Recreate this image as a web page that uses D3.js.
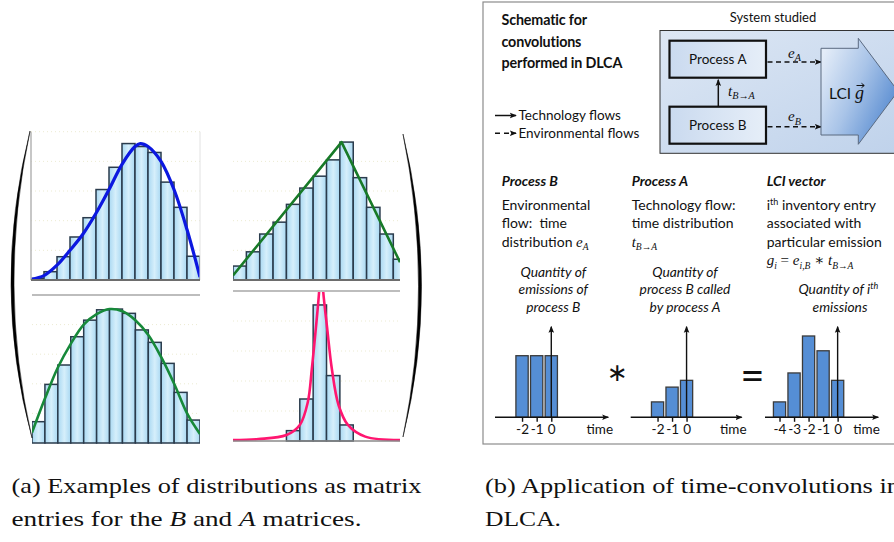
<!DOCTYPE html>
<html><head><meta charset="utf-8">
<script src="https://cdn.jsdelivr.net/npm/d3@7"></script>
<style>body{margin:0;background:#fff}svg{display:block}</style>
</head><body>
<svg id="c" width="894" height="542"></svg>
<script>
// ---------- DATA ----------
const bars1 = [1, 5.6, 15.7, 29, 42, 61, 76, 92, 90, 86, 66, 49, 16];
const curve1 = [[0,0.5],[1,3],[2,10],[3,20],[4,31],[5,45],[6,61],[7,78],[8,90],[8.4,92],[9,90],[10,80],[11,61],[12,34],[13,2]];
const bars2 = [9.4, 19, 31, 39, 51, 62, 70, 81, 93, 69, 49, 31, 14];
const curve2 = [[0,3],[8.125,93],[12.5,12]];
const bars3 = [14.4, 39.6, 52.7, 71.8, 83, 90, 90.5, 87.6, 76.4, 68, 53.8, 34.2, 15.5];
const curve3 = [[0,7],[1,30],[2,51],[3,67],[4,80],[5,87],[6,90.5],[7,89],[8,83],[9,73],[10,58],[11,40],[12,20],[13,6]];
const bars4 = [0, 0, 0, 0, 6.9, 28, 90.7, 43.6, 10.7, 0, 0, 0, 0];
const curve4 = [[0,0.7],[1.9,1.3],[4,4],[5,10.7],[5.6,26],[5.9,48],[6.2,75],[6.45,100],[6.6,125],[6.75,100],[7.05,75],[7.4,48],[7.9,24],[8.6,10.7],[9.9,2.9],[12.5,0.7]];

const timeB = [-2, -1, 0], qtyB = [1, 1, 1];
const timeA = [-2, -1, 0], qtyA = [0.25, 0.49, 0.6];
const timeG = [-4, -3, -2, -1, 0], qtyG = [0.25, 0.72, 1.32, 1.08, 0.6];

const captionA = ["(a) Examples of distributions as matrix", "entries for the ", "B", " and ", "A", " matrices."];
const captionB = ["(b) Application of time-convolutions in", "DLCA."];

// ---------- SETUP ----------
const svg = d3.select("#c");
svg.append("rect").attr("width",894).attr("height",542).attr("fill","#fff");
const defs = svg.append("defs");

function grad(id, x1,y1,x2,y2, stops){
  const g = defs.append("linearGradient").attr("id",id).attr("x1",x1).attr("y1",y1).attr("x2",x2).attr("y2",y2);
  stops.forEach(s=>g.append("stop").attr("offset",s[0]).attr("stop-color",s[1]));
}
grad("gSys","0","0","1","1",[[0,"#dde7f4"],[1,"#bfd2eb"]]);
grad("gProc","0","0","1","0",[[0,"#cadaef"],[1,"#e6eef8"]]);
grad("gLCI","0","0.2","1","0.8",[[0,"#e3ecf8"],[0.45,"#a9c4e8"],[1,"#4a82cd"]]);
grad("gBar","0","0","1","0",[[0,"#a9d8f2"],[0.5,"#d6effb"],[1,"#a9d8f2"]]);

function marker(id){
  defs.append("marker").attr("id",id).attr("viewBox","0 0 8 8").attr("refX",7).attr("refY",4)
    .attr("markerWidth",7).attr("markerHeight",7).attr("markerUnits","userSpaceOnUse").attr("orient","auto")
    .append("path").attr("d","M0,0.8 L8,4 L0,7.2 L1.6,4 Z").attr("fill","#111");
}
marker("arr");

// ---------- PANEL (a) ----------
const panels = [
  {bars:bars1, curve:curve1, x0:31,  x1:200, yb:280, yt:131.7, xmax:13,   color:"#0c18e0", cw:3.2, type:d3.curveCatmullRom},
  {bars:bars2, curve:curve2, x0:233, x1:400, yb:280, yt:131.7, xmax:12.5, color:"#187a28", cw:2.6, type:d3.curveLinear},
  {bars:bars3, curve:curve3, x0:32,  x1:200, yb:443, yt:295,   xmax:13,   color:"#17893a", cw:2.6, type:d3.curveCatmullRom},
  {bars:bars4, curve:curve4, x0:233, x1:400, yb:441, yt:291,   xmax:12.5, color:"#ff1670", cw:2.6, type:d3.curveCatmullRom}
];

const pa = svg.append("g");
panels.forEach((p,k)=>{
  const x = d3.scaleLinear().domain([0,p.xmax]).range([p.x0,p.x1]);
  const y = d3.scaleLinear().domain([0,100]).range([p.yb,p.yt]);
  const cid = "clip"+k;
  defs.append("clipPath").attr("id",cid).append("rect")
    .attr("x",p.x0).attr("y",p.yt-1).attr("width",p.x1-p.x0).attr("height",p.yb-p.yt+3);
  const g = pa.append("g");
  const gy = d3.range(20,100,20);
  g.selectAll("line.gr").data(gy).join("line").attr("class","gr")
    .attr("x1",p.x0).attr("x2",p.x1).attr("y1",d=>y(d)).attr("y2",d=>y(d))
    .attr("stroke","#ecebd2").attr("stroke-width",1).attr("stroke-dasharray","1,3");
  const gc = g.append("g").attr("clip-path",`url(#${cid})`);
  gc.selectAll("rect").data(p.bars.map((v,i)=>({i,v})).filter(d=>d.v>0)).join("rect")
    .attr("x",d=>x(d.i)).attr("y",d=>y(d.v))
    .attr("width",d=>x(d.i+1)-x(d.i)).attr("height",d=>y(0)-y(d.v))
    .attr("fill","url(#gBar)").attr("stroke","#2a3b4c").attr("stroke-width",1.5);
  gc.append("path").datum(p.curve)
    .attr("d",d3.line().x(d=>x(d[0])).y(d=>y(d[1])).curve(p.type))
    .attr("fill","none").attr("stroke",p.color).attr("stroke-width",p.cw).attr("stroke-linejoin","round");
  if(k===0){
    g.append("line").attr("x1",p.x0).attr("x2",p.x0).attr("y1",p.yt).attr("y2",p.yb).attr("stroke","#b4b4b4").attr("stroke-width",1.5);
    g.append("line").attr("x1",p.x1).attr("x2",p.x1).attr("y1",p.yt).attr("y2",p.yb).attr("stroke","#e2e2e2").attr("stroke-width",1);
    g.append("line").attr("x1",p.x0).attr("x2",p.x1).attr("y1",p.yt).attr("y2",p.yt).attr("stroke","#ecebd2").attr("stroke-dasharray","1,3");
  }
  if(k<2) g.append("line").attr("x1",p.x0).attr("x2",p.x1).attr("y1",p.yb).attr("y2",p.yb).attr("stroke","#6d6d6d").attr("stroke-width",2);
  if(k>=2) g.append("line").attr("x1",p.x0).attr("x2",p.x1).attr("y1",p.yt).attr("y2",p.yt).attr("stroke","#bdbdbd").attr("stroke-width",2);
  if(k===3) g.append("line").attr("x1",p.x0).attr("x2",p.x1).attr("y1",p.yb).attr("y2",p.yb).attr("stroke","#8a8a8a").attr("stroke-width",1.5);
});

// matrix parentheses (crescent shapes)
pa.append("path").attr("d","M30,131 Q-9,287 32,438 Q-3,287 30,131 Z").attr("fill","#000").attr("stroke","#000").attr("stroke-width",0.5);
pa.append("path").attr("d","M403,134 Q440,287 403,437 Q434,287 403,134 Z").attr("fill","#000").attr("stroke","#000").attr("stroke-width",0.5);

// ---------- CAPTIONS ----------
const serif = "'Liberation Serif', 'DejaVu Serif', serif";
const capG = svg.append("g").attr("font-family",serif).attr("font-size",22).attr("fill","#111");
capG.append("text").attr("x",11.5).attr("y",493).attr("textLength",410).attr("lengthAdjust","spacingAndGlyphs").text(captionA[0]);
const ca2 = capG.append("text").attr("x",11.5).attr("y",525.5).attr("textLength",350).attr("lengthAdjust","spacingAndGlyphs");
captionA.slice(1).forEach((s,i)=>{ const t=ca2.append("tspan").text(s); if(i===1||i===3) t.attr("font-style","italic"); });
capG.append("text").attr("x",485).attr("y",493).attr("textLength",415).attr("lengthAdjust","spacingAndGlyphs").text(captionB[0]);
capG.append("text").attr("x",485).attr("y",525.5).attr("textLength",76).attr("lengthAdjust","spacingAndGlyphs").text(captionB[1]);

// ---------- PANEL (b) ----------
const sans = "Lato, 'Open Sans', sans-serif";
const math = "'Liberation Serif', 'DejaVu Serif', serif";
const pb = svg.append("g").attr("font-family",sans).attr("fill","#111");
pb.append("rect").attr("x",483).attr("y",2).attr("width",430).attr("height",442).attr("fill","none").attr("stroke","#8c8c8c").attr("stroke-width",1.2);

function rich(parent, x, y, segs, o){
  const t = parent.append("text").attr("x",x).attr("y",y).attr("font-size",o.fs).attr("fill","#111");
  if(o.anchor) t.attr("text-anchor",o.anchor);
  if(o.style) t.attr("font-style",o.style);
  if(o.weight) t.attr("font-weight",o.weight);
  let shift = 0;
  segs.forEach(s=>{
    const target = s.sub ? 3.5 : (s.sup ? -5 : 0);
    const ts = t.append("tspan").text(s.t).attr("dy",target-shift);
    shift = target;
    if(s.sub||s.sup) ts.attr("font-size",(s.sfs||o.fs*0.68));
    if(s.it) ts.attr("font-style","italic");
    if(s.m) ts.attr("font-family",math);
    if(s.mfs) ts.attr("font-size",s.mfs);
  });
  return t;
}

// title
["Schematic for","convolutions","performed in DLCA"].forEach((s,i)=>{
  pb.append("text").attr("x",501.5).attr("y",25+i*21.5).attr("font-size",14.3).attr("font-weight","bold").attr("letter-spacing",-0.15).text(s);
});
pb.append("text").attr("x",773).attr("y",22).attr("font-size",13).attr("text-anchor","middle").text("System studied");

// system box
pb.append("rect").attr("x",660).attr("y",30.5).attr("width",245).attr("height",122.8).attr("fill","url(#gSys)").attr("stroke","#333").attr("stroke-width",1);
[["Process A",40.7],["Process B",106.7]].forEach(d=>{
  pb.append("rect").attr("x",669.5).attr("y",d[1]).attr("width",96.5).attr("height",37).attr("fill","url(#gProc)").attr("stroke","#111").attr("stroke-width",2.2);
  pb.append("text").attr("x",717.8).attr("y",d[1]+23.5).attr("text-anchor","middle").attr("font-size",13.5).text(d[0]);
});
pb.append("line").attr("x1",718.3).attr("x2",718.3).attr("y1",106).attr("y2",79.8).attr("stroke","#111").attr("stroke-width",1.5).attr("marker-end","url(#arr)");
rich(pb,728,95.5,[{t:"t",it:1,m:1},{t:"B→A",sub:1,it:1,m:1}],{fs:15});
[[62,"A",57.5],[126.7,"B",121]].forEach(d=>{
  pb.append("line").attr("x1",767.5).attr("x2",821).attr("y1",d[0]).attr("y2",d[0]).attr("stroke","#111").attr("stroke-width",1.6).attr("stroke-dasharray","5,3.5").attr("marker-end","url(#arr)");
  rich(pb,788,d[2],[{t:"e",it:1,m:1},{t:d[1],sub:1,it:1,m:1}],{fs:15});
});
// LCI block arrow
pb.append("path").attr("d","M821,48.3 L858.3,48.3 L858.3,38.3 L898,91.2 L858.3,144.3 L858.3,135 L821,135 Z")
  .attr("fill","url(#gLCI)").attr("stroke","#5a6a80").attr("stroke-width",1);
pb.append("text").attr("x",829).attr("y",99).attr("font-size",15.5).text("LCI");
pb.append("text").attr("x",855).attr("y",99).attr("font-size",18).attr("font-family",math).attr("font-style","italic").text("g");
pb.append("path").attr("d","M856.5,85.5 L864,85.5 M861.5,83.3 L864.3,85.5 L861.5,87.7").attr("fill","none").attr("stroke","#111").attr("stroke-width",1);

// legend
pb.append("line").attr("x1",495).attr("x2",516).attr("y1",115.5).attr("y2",115.5).attr("stroke","#111").attr("stroke-width",1.5).attr("marker-end","url(#arr)");
pb.append("text").attr("x",518.5).attr("y",120).attr("font-size",13.5).text("Technology flows");
pb.append("line").attr("x1",495).attr("x2",516).attr("y1",133.3).attr("y2",133.3).attr("stroke","#111").attr("stroke-width",1.5).attr("stroke-dasharray","5,4").attr("marker-end","url(#arr)");
pb.append("text").attr("x",518.5).attr("y",138).attr("font-size",13.5).text("Environmental flows");

// columns
const bodyFs = 14;
pb.append("text").attr("x",501.7).attr("y",186).attr("font-size",14).attr("font-weight","bold").attr("font-style","italic").text("Process B");
pb.append("text").attr("x",631.7).attr("y",186).attr("font-size",14).attr("font-weight","bold").attr("font-style","italic").text("Process A");
pb.append("text").attr("x",766.7).attr("y",186).attr("font-size",14).attr("font-weight","bold").attr("font-style","italic").text("LCI vector");

rich(pb,501.7,210,[{t:"Environmental"}],{fs:bodyFs});
rich(pb,501.7,228.3,[{t:"flow:\u00a0 time"}],{fs:bodyFs});
rich(pb,501.7,246.7,[{t:"distribution "},{t:"e",it:1,m:1,mfs:15},{t:"A",sub:1,it:1,m:1}],{fs:bodyFs});

rich(pb,631.7,210,[{t:"Technology flow:"}],{fs:bodyFs});
rich(pb,631.7,228.3,[{t:"time distribution"}],{fs:bodyFs});
rich(pb,631.7,246.7,[{t:"t",it:1,m:1,mfs:15},{t:"B→A",sub:1,it:1,m:1}],{fs:bodyFs});

rich(pb,766.7,210,[{t:"i"},{t:"th",sup:1,sfs:9},{t:" inventory entry"}],{fs:bodyFs});
rich(pb,766.7,228.3,[{t:"associated with"}],{fs:bodyFs});
rich(pb,766.7,246.7,[{t:"particular emission"}],{fs:bodyFs});
rich(pb,766.7,265,[{t:"g",it:1,m:1,mfs:15},{t:"i",sub:1,it:1,m:1},{t:" = ",m:1,mfs:15},{t:"e",it:1,m:1,mfs:15},{t:"i,B",sub:1,it:1,m:1},{t:" ∗ ",m:1,mfs:15},{t:"t",it:1,m:1,mfs:15},{t:"B→A",sub:1,it:1,m:1}],{fs:bodyFs});

const itFs = 13.8;
[["Quantity of",276.7],["emissions of",294.3],["process B",311.7]].forEach(d=>
  rich(pb,553.3,d[1],[{t:d[0]}],{fs:itFs,anchor:"middle",style:"italic"}));
[["Quantity of",276.7],["process B called",294.3],["by process A",311.7]].forEach(d=>
  rich(pb,685,d[1],[{t:d[0]}],{fs:itFs,anchor:"middle",style:"italic"}));
rich(pb,838.3,294.3,[{t:"Quantity of i"},{t:"th",sup:1,sfs:9}],{fs:itFs,anchor:"middle",style:"italic"});
rich(pb,840,311.7,[{t:"emissions"}],{fs:itFs,anchor:"middle",style:"italic"});

// convolution charts
const convCharts = [
  {t:timeB, q:qtyB, dom:[-3.85,3.9], rng:[495,608.3], timeX:586.5},
  {t:timeA, q:qtyA, dom:[-3.85,3.8], rng:[630.7,741.7], timeX:720},
  {t:timeG, q:qtyG, dom:[-5,2.8],   rng:[765,878.3], timeX:853.3}
];
const yC = d3.scaleLinear().domain([0,1]).range([417.3,355.7]);
convCharts.forEach(c=>{
  const x = d3.scaleLinear().domain(c.dom).range(c.rng);
  const g = pb.append("g");
  g.selectAll("rect").data(c.t.map((t,i)=>({t,v:c.q[i]}))).join("rect")
    .attr("x",d=>x(d.t-0.42)).attr("width",d=>x(d.t+0.42)-x(d.t-0.42))
    .attr("y",d=>yC(d.v)).attr("height",d=>yC(0)-yC(d.v))
    .attr("fill","#558ed5").attr("stroke","#3b3b3b").attr("stroke-width",1.3);
  g.append("line").attr("x1",x(0)).attr("x2",x(0)).attr("y1",yC(0)).attr("y2",yC(1.47))
    .attr("stroke","#111").attr("stroke-width",1.4).attr("marker-end","url(#arr)");
  g.append("line").attr("x1",c.rng[0]).attr("x2",c.rng[1]).attr("y1",yC(0)).attr("y2",yC(0))
    .attr("stroke","#111").attr("stroke-width",1.4).attr("marker-end","url(#arr)");
  const ax = g.append("g").attr("transform",`translate(0,${yC(0)})`)
    .call(d3.axisBottom(x).tickValues(c.t).tickSize(4.5).tickPadding(3).tickFormat(d=>String(d)));
  ax.select(".domain").remove();
  ax.selectAll(".tick line").attr("stroke","#111").attr("stroke-width",1.4);
  ax.selectAll(".tick text").attr("font-family",sans).attr("font-size",13.5).attr("fill","#111");
  g.append("text").attr("x",c.timeX).attr("y",433.5).attr("font-size",13.5).text("time");
});
pb.append("text").attr("x",617.5).attr("y",381).attr("text-anchor","middle").attr("font-size",25).attr("font-family","'DejaVu Sans', sans-serif").text("∗");
pb.append("text").attr("x",752.5).attr("y",390).attr("text-anchor","middle").attr("font-size",42).attr("font-family",sans).text("=");
</script>
</body></html>
